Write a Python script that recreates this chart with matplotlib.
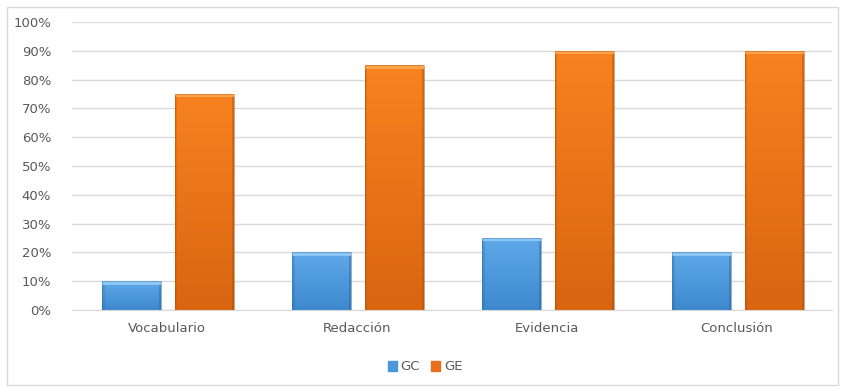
import numpy as np
import matplotlib.pyplot as plt
from matplotlib.colors import LinearSegmentedColormap
from matplotlib.patches import Rectangle

categories = ['Vocabulario', 'Redacción', 'Evidencia', 'Conclusión']
gc = [0.10, 0.20, 0.25, 0.20]
ge = [0.75, 0.85, 0.90, 0.90]

fig = plt.figure(figsize=(8.46, 3.92), dpi=100)
ax = fig.add_axes([72 / 846, 1 - 310 / 392, 760 / 846, 288 / 392])

# outer chart border
fig.patches.append(Rectangle((7 / 846, 7 / 392), 831 / 846, 378 / 392,
                             transform=fig.transFigure, fill=False,
                             edgecolor='#D9D9D9', linewidth=1))

x = np.arange(len(categories))
w = 0.31


def bevel_bars(xs, vals, top, bottom, light, edge):
    bars = ax.bar(xs, vals, w, color=bottom, edgecolor='none', zorder=3)
    cmap = LinearSegmentedColormap.from_list('g', [bottom, top])
    grad = np.linspace(0, 1, 50).reshape(-1, 1)
    sx = 0.012  # side bevel width (data units)
    sy = 0.012  # top bevel height
    for b in bars:
        x0, y0 = b.get_x(), b.get_y()
        bw, bh = b.get_width(), b.get_height()
        # soft shadow on right
        ax.add_patch(Rectangle((x0 + bw, y0), 0.006, bh - 0.005, color='#BFBFBF',
                               alpha=0.5, zorder=2.9, linewidth=0))
        im = ax.imshow(grad, extent=(x0, x0 + bw, y0, y0 + bh), origin='lower',
                       cmap=cmap, aspect='auto', zorder=3.5, vmin=0, vmax=1)
        im.set_clip_path(b)
        # bevels
        ax.add_patch(Rectangle((x0, y0 + bh - sy), bw, sy, color=light,
                               zorder=4, linewidth=0))
        ax.add_patch(Rectangle((x0, y0), sx, bh - sy, color=edge, alpha=0.25,
                               zorder=4, linewidth=0))
        ax.add_patch(Rectangle((x0 + bw - sx, y0), sx, bh - sy, color=edge, alpha=0.45,
                               zorder=4, linewidth=0))
        ax.add_patch(Rectangle((x0, y0), bw, bh, fill=False, edgecolor=edge,
                               linewidth=0.4, alpha=0.7, zorder=4.2))
    return bars


bevel_bars(x - 0.185, gc, '#5FA9E9', '#3E89CE', '#8CC6F4', '#2A679F')
bevel_bars(x + 0.198, ge, '#F8821F', '#D96511', '#FFA24A', '#A94C0A')

ax.set_xlim(-0.5, len(categories) - 0.5)
ax.set_ylim(0, 1.0)
ax.set_yticks(np.arange(0, 1.01, 0.1))
ax.set_yticklabels([f'{int(round(v * 100))}%' for v in np.arange(0, 1.01, 0.1)])
ax.set_xticks(x)
ax.set_xticklabels(categories)
ax.tick_params(axis='both', length=0, colors='#595959', labelsize=9.5)
ax.tick_params(axis='y', pad=15)
ax.tick_params(axis='x', pad=9)
ax.grid(axis='y', color='#D9D9D9', linewidth=1, zorder=0)
for s in ['top', 'right', 'left']:
    ax.spines[s].set_visible(False)
ax.spines['bottom'].set_color('#D9D9D9')

leg = fig.legend([Rectangle((0, 0), 1, 1, color='#4A97DA'),
                  Rectangle((0, 0), 1, 1, color='#E8701A')],
                 ['GC', 'GE'], loc='center', bbox_to_anchor=(425 / 846, 1 - 367 / 392),
                 ncol=2, frameon=False, fontsize=9.5, handlelength=0.7, handleheight=0.7,
                 handletextpad=0.3, columnspacing=0.8)
for t in leg.get_texts():
    t.set_color('#595959')

fig.savefig('out.png', dpi=100)
